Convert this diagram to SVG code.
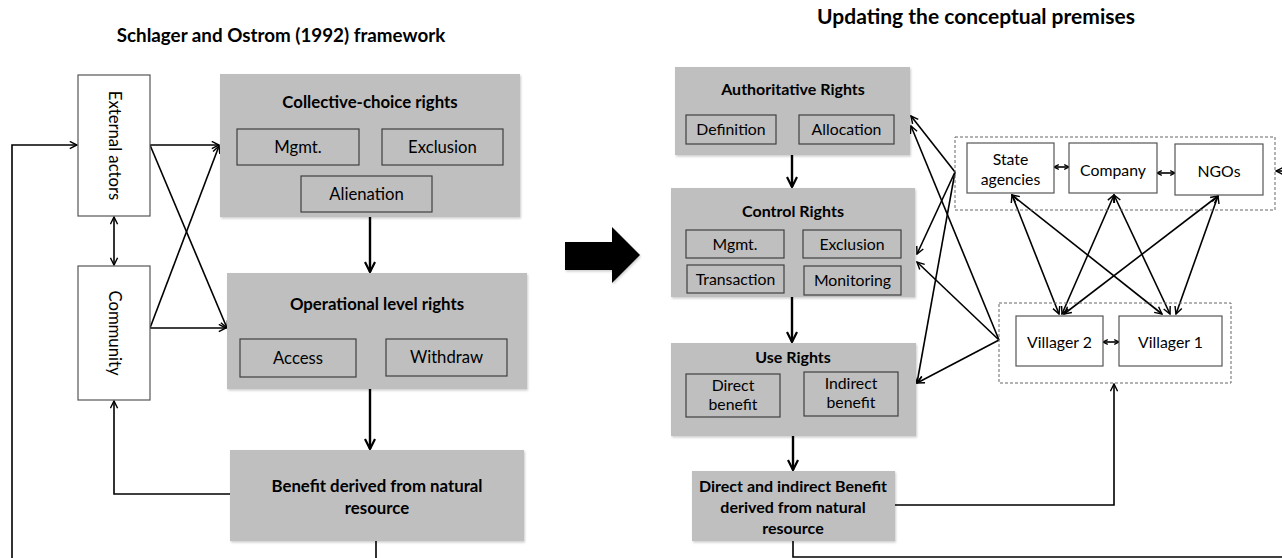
<svg xmlns="http://www.w3.org/2000/svg" width="1282" height="558" viewBox="0 0 1282 558">
<style>
text{font-family:Lato,"Liberation Sans",sans-serif;fill:#000;text-anchor:middle}
.title{font-weight:bold;font-size:18.8px}
.title2{font-weight:bold;font-size:21px}
.bt{font-weight:bold;font-size:16.8px}
.bt2{font-weight:bold;font-size:16px}
.lab{font-size:16.7px}
.sl{font-size:15.8px}
.gray{fill:#bfbfbf;filter:url(#sh)}
.sub{fill:none;stroke:#404040;stroke-width:1.2}
.wb{fill:#fff;stroke:#555;stroke-width:1.2}
.dot{fill:none;stroke:#666;stroke-width:1;stroke-dasharray:3,2}
.c{fill:none;stroke:#000;stroke-width:1.6}
.ck{fill:none;stroke:#000;stroke-width:2.4}
.a{marker-end:url(#ah)}
.d{marker-start:url(#ah);marker-end:url(#ah)}
.ds{marker-start:url(#ahs);marker-end:url(#ahs)}
.ak{marker-end:url(#ahk)}
</style>
<defs>
<filter id="sh" x="-5%" y="-5%" width="110%" height="115%"><feDropShadow dx="1" dy="1.5" stdDeviation="1" flood-color="#000" flood-opacity="0.2"/></filter>
<marker id="ah" viewBox="0 0 10 10" refX="9" refY="5" markerWidth="9" markerHeight="9" markerUnits="userSpaceOnUse" orient="auto-start-reverse"><path d="M1,1 L9,5 L1,9" fill="none" stroke="#000" stroke-width="1.6"/></marker>
<marker id="ahs" viewBox="0 0 10 10" refX="9" refY="5" markerWidth="6" markerHeight="7" markerUnits="userSpaceOnUse" orient="auto-start-reverse"><path d="M1,1 L9,5 L1,9" fill="none" stroke="#000" stroke-width="2.2"/></marker>
<marker id="ahk" viewBox="0 0 12 12" refX="11" refY="6" markerWidth="12" markerHeight="12" markerUnits="userSpaceOnUse" orient="auto"><path d="M1,1 L11,6 L1,11" fill="none" stroke="#000" stroke-width="2.2"/></marker>
</defs>

<text class="title" x="281" y="42">Schlager and Ostrom (1992) framework</text>
<text class="title2" x="976" y="24">Updating the conceptual premises</text>

<g id="connectors">
<path class="c a" d="M12,558 V145 H77"/>
<path class="c d" d="M114,217 V265"/>
<path class="c a" d="M150,145 H219"/>
<path class="c a" d="M150,145 L227,328"/>
<path class="c a" d="M150,328 L219,146"/>
<path class="c a" d="M150,328 H226"/>
<path class="ck ak" d="M370,217 V272"/>
<path class="ck ak" d="M370,389 V449"/>
<path class="c a" d="M230,494 H114 V401"/>
<path class="c" d="M376,541 V558"/>
<path class="ck ak" d="M792,155 V187"/>
<path class="ck ak" d="M792,297 V342"/>
<path class="ck ak" d="M793,436 V470"/>
<path class="c a" d="M895,505 H1114 V384"/>
<path class="c" d="M793,541 V557 H1282"/>
<path class="c a" d="M955,172 L911,116"/>
<path class="c a" d="M955,172 L917,254"/>
<path class="c a" d="M955,172 L917,383"/>
<path class="c a" d="M999,340 L911,126"/>
<path class="c a" d="M999,340 L917,262"/>
<path class="c a" d="M999,340 L917,383"/>
<path class="c d" d="M1012,195 L1059,314"/>
<path class="c d" d="M1012,195 L1162,314"/>
<path class="c d" d="M1114,195 L1062,314"/>
<path class="c d" d="M1114,195 L1170,314"/>
<path class="c d" d="M1218,196 L1064,314"/>
<path class="c d" d="M1218,196 L1176,314"/>
<path class="c ds" d="M1054,167 H1069"/>
<path class="c ds" d="M1157,173 H1175"/>
<path class="c ds" d="M1103,342 H1119"/>
<path class="c a" d="M1290,171 H1276"/>
</g>

<g id="external-actors"><rect class="wb" x="78" y="75" width="72" height="141"/><text class="lab" transform="translate(114,145.5) rotate(90)" y="5.5">External actors</text></g>
<g id="community"><rect class="wb" x="78" y="266" width="72" height="134"/><text class="lab" transform="translate(114,333) rotate(90)" y="5.5">Community</text></g>

<g id="collective-choice">
<rect class="gray" x="220" y="74" width="300" height="143"/>
<text class="bt" x="370" y="108">Collective-choice rights</text>
<rect class="sub" x="237" y="129" width="122" height="36"/><text class="lab" x="298" y="153">Mgmt.</text>
<rect class="sub" x="382" y="129" width="121" height="36"/><text class="lab" x="442.5" y="153">Exclusion</text>
<rect class="sub" x="301" y="176" width="131" height="36"/><text class="lab" x="366.5" y="200">Alienation</text>
</g>
<g id="operational">
<rect class="gray" x="227" y="273" width="300" height="116"/>
<text class="bt" x="377" y="310">Operational level rights</text>
<rect class="sub" x="240" y="339" width="116" height="38"/><text class="lab" x="298" y="364">Access</text>
<rect class="sub" x="386" y="339" width="121" height="37"/><text class="lab" x="446.5" y="363">Withdraw</text>
</g>
<g id="benefit">
<rect class="gray" x="230" y="450" width="294" height="91"/>
<text class="bt" x="377" y="492">Benefit derived from natural</text>
<text class="bt" x="377" y="514">resource</text>
</g>

<g id="big-arrow"><polygon points="565,242 612,242 612,227 640,255 612,283 612,270 565,270" fill="#000" filter="url(#sh)"/></g>

<g id="authoritative">
<rect class="gray" x="675" y="67" width="235" height="88"/>
<text class="bt2" x="793" y="95">Authoritative Rights</text>
<rect class="sub" x="686" y="115" width="90" height="29"/><text class="sl" x="731" y="135">Definition</text>
<rect class="sub" x="799" y="115" width="95" height="29"/><text class="sl" x="846.5" y="135">Allocation</text>
</g>
<g id="control">
<rect class="gray" x="671" y="188" width="244" height="109"/>
<text class="bt2" x="793" y="217">Control Rights</text>
<rect class="sub" x="686" y="230" width="98" height="28"/><text class="sl" x="735" y="250">Mgmt.</text>
<rect class="sub" x="803" y="230" width="98" height="28"/><text class="sl" x="852" y="250">Exclusion</text>
<rect class="sub" x="687" y="265" width="97" height="28"/><text class="sl" x="735.5" y="285">Transaction</text>
<rect class="sub" x="804" y="266" width="97" height="29"/><text class="sl" x="852.5" y="286">Monitoring</text>
</g>
<g id="use">
<rect class="gray" x="671" y="343" width="245" height="93"/>
<text class="bt2" x="793" y="363">Use Rights</text>
<rect class="sub" x="686" y="374" width="94" height="43"/><text class="sl" x="733" y="391">Direct</text><text class="sl" x="733" y="410">benefit</text>
<rect class="sub" x="804" y="372" width="94" height="44"/><text class="sl" x="851" y="389">Indirect</text><text class="sl" x="851" y="408">benefit</text>
</g>
<g id="direct-indirect-benefit">
<rect class="gray" x="692" y="471" width="203" height="70"/>
<text class="bt2" x="793" y="492">Direct and indirect Benefit</text>
<text class="bt2" x="793" y="513">derived from natural</text>
<text class="bt2" x="793" y="534">resource</text>
</g>

<g id="actors-group"><rect class="dot" x="955" y="137" width="320" height="73"/></g>
<g id="state-agencies"><rect class="wb" x="967" y="143" width="87" height="50"/><text class="sl" x="1010.5" y="165">State</text><text class="sl" x="1010.5" y="185">agencies</text></g>
<g id="company"><rect class="wb" x="1069" y="143" width="88" height="50"/><text class="sl" x="1113" y="176">Company</text></g>
<g id="ngos"><rect class="wb" x="1175" y="144" width="88" height="51"/><text class="sl" x="1219" y="177">NGOs</text></g>
<g id="villagers-group"><rect class="dot" x="999" y="303" width="232" height="80"/></g>
<g id="villager-2"><rect class="wb" x="1016" y="316" width="87" height="50"/><text class="sl" x="1059.5" y="348">Villager 2</text></g>
<g id="villager-1"><rect class="wb" x="1119" y="316" width="103" height="50"/><text class="sl" x="1170.5" y="348">Villager 1</text></g>
</svg>
